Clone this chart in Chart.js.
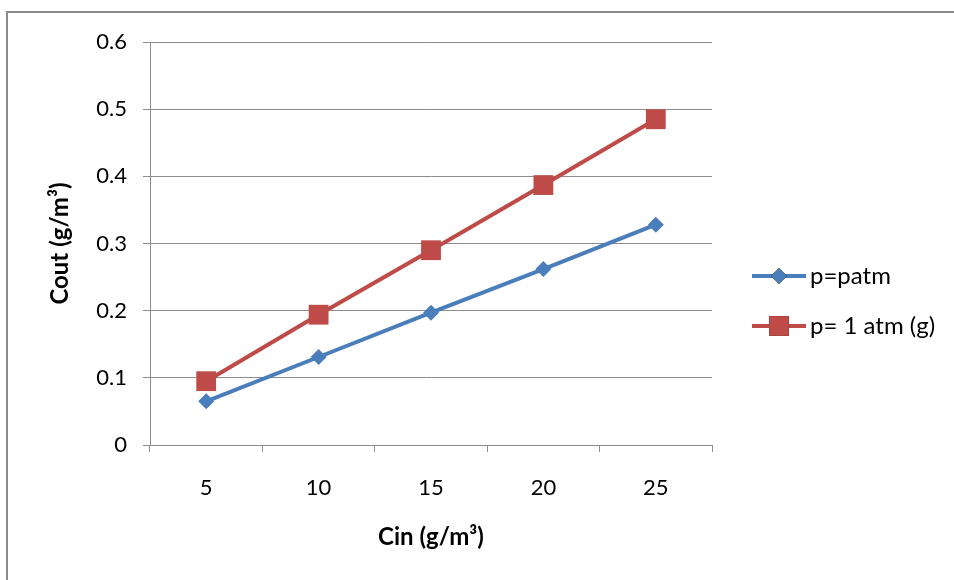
<!DOCTYPE html>
<html>
<head>
  <meta charset="utf-8" />
  <title>Cout vs Cin</title>
  <script src="https://cdn.jsdelivr.net/npm/chart.js"></script>
  <style>
    body { margin: 0; background: #ffffff; }
    #wrap { position: relative; width: 954px; height: 580px; overflow: hidden; }
    #frame {
      position: absolute; left: 6px; top: 11px; width: 960px; height: 600px;
      border-top: 2px solid #8a8a8a; border-left: 2px solid #8a8a8a;
    }
    canvas { position: absolute; left: 0; top: 0; }
  </style>
</head>
<body>
  <div id="wrap">
    <div id="frame"></div>
    <canvas id="chart" width="954" height="580"></canvas>
  </div>
  <script>
    // data
    const categories = ['5', '10', '15', '20', '25'];
    const patmValues = [0.065, 0.131, 0.197, 0.262, 0.328];
    const oneAtmValues = [0.095, 0.194, 0.290, 0.387, 0.485];
    const seriesNames = ['p=patm', 'p= 1 atm (g)'];

    const fontFamily = "Lato, 'Open Sans', sans-serif";
    const gridColor = '#8c8c8c';

    // legend drawn like the spreadsheet one: line with marker through it
    const lineLegend = {
      id: 'lineLegend',
      afterDraw(chart) {
        const ctx = chart.ctx;
        const rows = [276, 326];
        chart.data.datasets.forEach((ds, i) => {
          const y = rows[i];
          ctx.save();
          ctx.strokeStyle = ds.borderColor;
          ctx.lineWidth = ds.borderWidth;
          ctx.beginPath();
          ctx.moveTo(752, y);
          ctx.lineTo(806, y);
          ctx.stroke();
          Chart.helpers.drawPoint(ctx, {
            pointStyle: ds.pointStyle,
            radius: ds.pointRadius,
            borderWidth: 0
          }, 779, y);
          ctx.fillStyle = ds.pointBackgroundColor;
          ctx.fill();
          ctx.fillStyle = '#000';
          ctx.font = '24px ' + fontFamily;
          ctx.textBaseline = 'middle';
          ctx.textAlign = 'left';
          ctx.fillText(ds.label, 810, y);
          ctx.restore();
        });
      }
    };

    new Chart(document.getElementById('chart'), {
      type: 'line',
      data: {
        labels: categories,
        datasets: [
          {
            label: seriesNames[0],
            data: patmValues,
            borderColor: '#4a7ebb',
            backgroundColor: '#4a7ebb',
            pointBackgroundColor: '#4a7ebb',
            pointBorderColor: '#4a7ebb',
            borderWidth: 4,
            pointStyle: 'rectRot',
            pointRadius: 8,
            pointBorderWidth: 0,
            tension: 0
          },
          {
            label: seriesNames[1],
            data: oneAtmValues,
            borderColor: '#be4b48',
            backgroundColor: '#be4b48',
            pointBackgroundColor: '#be4b48',
            pointBorderColor: '#be4b48',
            borderWidth: 4,
            pointStyle: 'rect',
            pointRadius: 14,
            pointBorderWidth: 0,
            tension: 0
          }
        ]
      },
      options: {
        responsive: false,
        animation: false,
        layout: { padding: { left: 0, top: 42, right: 242, bottom: 0 } },
        plugins: {
          legend: { display: false },
          tooltip: { enabled: false }
        },
        scales: {
          x: {
            offset: true,
            grid: {
              offset: true,
              drawOnChartArea: false,
              drawTicks: true,
              tickLength: 7,
              color: gridColor
            },
            border: { color: gridColor, width: 1 },
            ticks: { color: '#000', padding: 23, font: { family: fontFamily, size: 22 } },
            title: {
              display: true,
              text: 'Cin (g/m³)',
              color: '#000',
              font: { family: fontFamily, size: 24, weight: 'bold' },
              padding: { top: 0, bottom: 28 }
            },
            afterFit(scale) { scale.height = 135; }
          },
          y: {
            min: 0,
            max: 0.6,
            ticks: {
              stepSize: 0.1,
              color: '#000',
              padding: 16,
              font: { family: fontFamily, size: 22 },
              callback: v => String(+v.toFixed(1))
            },
            grid: { color: gridColor, tickLength: 7 },
            border: { color: gridColor, width: 1 },
            title: {
              display: true,
              text: 'Cout (g/m³)',
              color: '#000',
              font: { family: fontFamily, size: 24, weight: 'bold' },
              padding: { top: 46, bottom: 0 }
            },
            afterFit(scale) { scale.width = 150; }
          }
        }
      },
      plugins: [lineLegend]
    });
  </script>
</body>
</html>
